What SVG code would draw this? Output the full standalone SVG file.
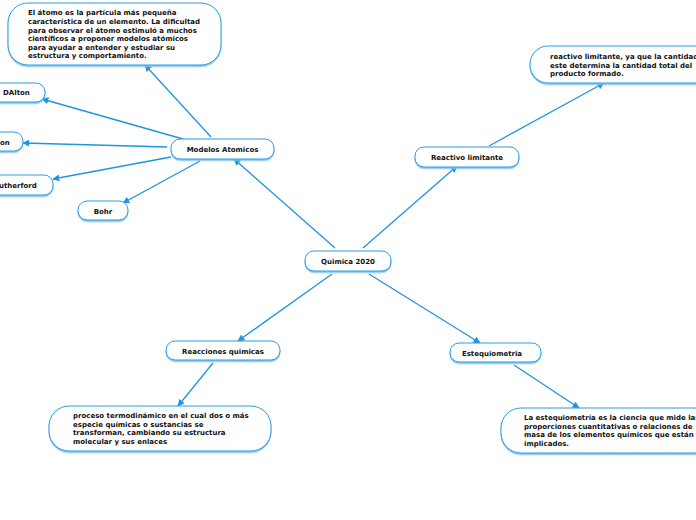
<svg xmlns="http://www.w3.org/2000/svg" width="696" height="520" viewBox="0 0 696 520">
<defs>
<marker id="ah" viewBox="0 0 10 10" refX="9" refY="5" markerWidth="7" markerHeight="7" orient="auto" markerUnits="userSpaceOnUse">
<path d="M0,0 L10,5 L0,10 Z" fill="#1f94e0"/>
</marker>
<filter id="sh" x="-10%" y="-10%" width="120%" height="140%">
<feDropShadow dx="0" dy="1.5" stdDeviation="0.4" flood-color="#7fc2ef" flood-opacity="1"/>
</filter>
</defs>
<style>
.n rect{fill:#fff;stroke:#2b9be3;stroke-width:1;filter:url(#sh)}
text{font-family:"DejaVu Sans",Verdana,sans-serif;font-weight:bold;font-size:7px;fill:#111}
.c{text-anchor:middle}
#connectors line{stroke:#1f94e0;stroke-width:1.3;marker-end:url(#ah)}
</style>
<rect width="696" height="520" fill="#fff"/>
<g id="connectors">
<line x1="335" y1="248" x2="234" y2="159"/>
<line x1="363" y1="248" x2="457" y2="166"/>
<line x1="332" y1="274" x2="238" y2="341"/>
<line x1="369" y1="274" x2="480" y2="343"/>
<line x1="211" y1="137" x2="145" y2="65"/>
<line x1="183" y1="139" x2="42" y2="99"/>
<line x1="167" y1="147" x2="23" y2="143"/>
<line x1="171" y1="157" x2="53" y2="179"/>
<line x1="200" y1="161" x2="123" y2="203"/>
<line x1="489" y1="146" x2="604" y2="83"/>
<line x1="213" y1="363" x2="178" y2="406"/>
<line x1="514" y1="365" x2="579" y2="408"/>
</g>
<g id="quimica" class="n"><rect x="305" y="251" width="86" height="20" rx="9"/><text class="c" x="348" y="264">Quimica 2020</text></g>
<g id="modelos" class="n"><rect x="171" y="139" width="103" height="20" rx="9"/><text class="c" x="222.5" y="152">Modelos Atomicos</text></g>
<g id="reactivo" class="n"><rect x="415" y="147" width="104" height="20" rx="9"/><text class="c" x="467" y="160">Reactivo limitante</text></g>
<g id="reacciones" class="n"><rect x="166" y="341" width="114" height="19" rx="9"/><text class="c" x="223" y="354">Reacciones quimicas</text></g>
<g id="estequiometria" class="n"><rect x="450" y="343" width="91" height="19" rx="9"/><text class="c" x="492" y="356">Estequiometria</text></g>
<g id="dalton" class="n"><rect x="-12" y="83" width="57" height="19" rx="9"/><text x="3" y="95">DAlton</text></g>
<g id="thomson" class="n"><rect x="-40" y="132" width="63" height="19" rx="9"/><text x="0" y="145">on</text></g>
<g id="rutherford" class="n"><rect x="-30" y="175" width="83" height="20" rx="9"/><text x="-1" y="188">utherford</text></g>
<g id="bohr" class="n"><rect x="78" y="201" width="50" height="19" rx="9"/><text class="c" x="103" y="214">Bohr</text></g>
<g id="atomo" class="n"><rect x="8" y="3" width="213" height="62" rx="20"/>
<text x="28" y="15">El átomo es la partícula más pequeña</text>
<text x="28" y="24">característica de un elemento. La dificultad</text>
<text x="28" y="32.5">para observar el átomo estimuló a muchos</text>
<text x="28" y="41">científicos a proponer modelos atómicos</text>
<text x="28" y="49.5">para ayudar a entender y estudiar su</text>
<text x="28" y="58">estructura y comportamiento.</text>
</g>
<g id="reactivo-def" class="n"><rect x="530" y="46" width="200" height="37" rx="18"/>
<text x="550" y="59">reactivo limitante, ya que la cantidad</text>
<text x="550" y="67.5">este determina la cantidad total del</text>
<text x="550" y="76">producto formado.</text>
</g>
<g id="reacciones-def" class="n"><rect x="49" y="406" width="222" height="45" rx="20"/>
<text x="73" y="418">proceso termodinámico en el cual dos o más</text>
<text x="73" y="426.5">especie químicas o sustancias se</text>
<text x="73" y="435">transforman, cambiando su estructura</text>
<text x="73" y="443.5">molecular y sus enlaces</text>
</g>
<g id="estequiometria-def" class="n"><rect x="501" y="408" width="220" height="45" rx="20"/>
<text x="524" y="420">La estequiometría es la ciencia que mide las</text>
<text x="524" y="428.5">proporciones cuantitativas o relaciones de</text>
<text x="524" y="437">masa de los elementos químicos que están</text>
<text x="524" y="445.5">implicados.</text>
</g>
</svg>
